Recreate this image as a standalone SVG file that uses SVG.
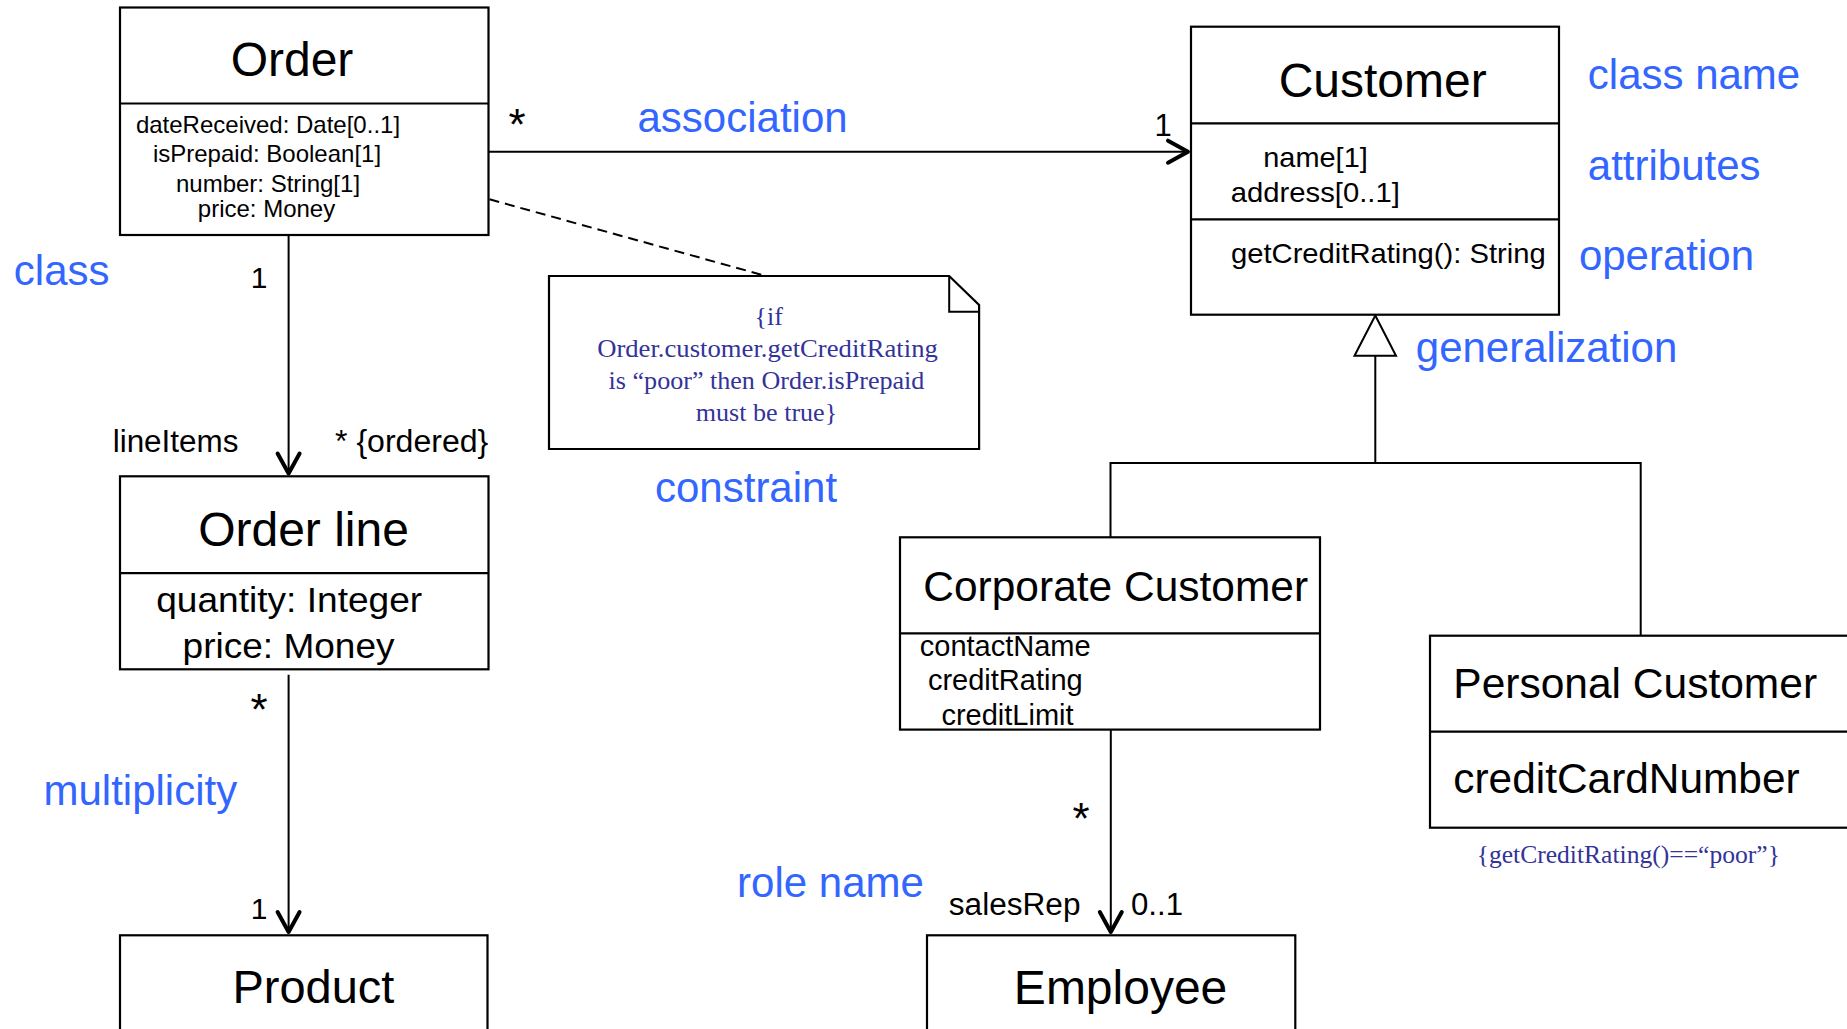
<svg xmlns="http://www.w3.org/2000/svg" width="1847" height="1029" viewBox="0 0 1847 1029">
<defs>
<style>
.box{fill:#fff;stroke:#000;stroke-width:2.2}
.dv{stroke:#000;stroke-width:2.2}
.t{font-family:"Liberation Sans",Arial,sans-serif;fill:#000}
.lbl{font-family:"Liberation Sans",Arial,sans-serif;fill:#3366ff;font-size:42px}
.note{font-family:"Liberation Serif","Times New Roman",serif;fill:#333399}
.ln{fill:none;stroke:#000;stroke-width:2}
.m{text-anchor:middle}
</style>
<marker id="open" markerUnits="userSpaceOnUse" markerWidth="32" markerHeight="32" viewBox="-5 -5 32 32" refX="20" refY="11" orient="auto">
<path d="M0,0 L20,11 L0,22" fill="none" stroke="#000" stroke-width="4" stroke-linecap="round" stroke-linejoin="round"/>
</marker>
</defs>
<rect width="1847" height="1029" fill="#fff"/>

<g id="connectors">
<path class="ln" d="M488.7,151.7 H1188" marker-end="url(#open)"/>
<path class="ln" d="M288.6,235 V473.5" marker-end="url(#open)"/>
<path class="ln" d="M288.6,674.8 V932" marker-end="url(#open)"/>
<path class="ln" d="M1110.8,729.6 V932" marker-end="url(#open)"/>
<path class="ln" d="M489.5,199.3 L762.4,275" stroke-dasharray="10 6"/>
<path class="ln" d="M1110.5,537.3 V463 H1640.7 V635.7 M1375.3,463 V355.7"/>
<polygon points="1375.3,315.5 1354.5,355.7 1396,355.7" fill="#fff" stroke="#000" stroke-width="2"/>
</g>

<g id="order">
<rect class="box" x="120" y="7.5" width="368.5" height="227.5"/>
<line class="dv" x1="120" y1="103.5" x2="488.5" y2="103.5"/>
<text class="t m" x="292" y="76" font-size="48">Order</text>
<text class="t m" x="268" y="132.7" font-size="24">dateReceived: Date[0..1]</text>
<text class="t m" x="267" y="161.7" font-size="24">isPrepaid: Boolean[1]</text>
<text class="t m" x="268" y="191.7" font-size="24">number: String[1]</text>
<text class="t m" x="266.5" y="216.7" font-size="24">price: Money</text>
</g>

<g id="customer">
<rect class="box" x="1191" y="26.7" width="368" height="288"/>
<line class="dv" x1="1191" y1="123.3" x2="1559" y2="123.3"/>
<line class="dv" x1="1191" y1="219.3" x2="1559" y2="219.3"/>
<text class="t m" x="1382.7" y="96.7" font-size="48">Customer</text>
<text class="t m" x="1315.5" y="166.7" font-size="28.5" textLength="104.5" lengthAdjust="spacingAndGlyphs">name[1]</text>
<text class="t m" x="1315.3" y="201.7" font-size="28.5" textLength="169" lengthAdjust="spacingAndGlyphs">address[0..1]</text>
<text class="t" x="1231" y="263.3" font-size="28.5" textLength="314.7" lengthAdjust="spacingAndGlyphs">getCreditRating(): String</text>
</g>

<g id="orderline">
<rect class="box" x="120" y="476.3" width="368.5" height="193"/>
<line class="dv" x1="120" y1="573.2" x2="488.5" y2="573.2"/>
<text class="t m" x="303.5" y="546" font-size="48">Order line</text>
<text class="t m" x="289.2" y="612.4" font-size="35" textLength="266" lengthAdjust="spacingAndGlyphs">quantity: Integer</text>
<text class="t m" x="288.6" y="657.7" font-size="35" textLength="212" lengthAdjust="spacingAndGlyphs">price: Money</text>
</g>

<g id="product">
<rect class="box" x="120" y="935.3" width="367.5" height="120"/>
<text class="t m" x="313.4" y="1002.5" font-size="47">Product</text>
</g>

<g id="corporate">
<rect class="box" x="900" y="537.3" width="420" height="192.3"/>
<line class="dv" x1="900" y1="633.4" x2="1320" y2="633.4"/>
<text class="t" x="923.3" y="600.8" font-size="42.5" textLength="384.8" lengthAdjust="spacingAndGlyphs">Corporate Customer</text>
<text class="t m" x="1005.2" y="655.9" font-size="29">contactName</text>
<text class="t m" x="1005.3" y="690.4" font-size="29">creditRating</text>
<text class="t m" x="1007.5" y="724.9" font-size="29">creditLimit</text>
</g>

<g id="employee">
<rect class="box" x="927" y="935.3" width="368.3" height="120"/>
<text class="t m" x="1120.6" y="1004.3" font-size="48">Employee</text>
</g>

<g id="personal">
<rect class="box" x="1430" y="635.7" width="450" height="192"/>
<line class="dv" x1="1430" y1="731.7" x2="1880" y2="731.7"/>
<text class="t" x="1453.3" y="697.7" font-size="42.5">Personal Customer</text>
<text class="t" x="1453.3" y="793.3" font-size="42.4">creditCardNumber</text>
<text class="note m" x="1628.3" y="863.3" font-size="25.6" textLength="303.3" lengthAdjust="spacingAndGlyphs">{getCreditRating()==“poor”}</text>
</g>

<g id="note">
<path d="M549,276 H949.2 L979.1,305 V449 H549 Z" fill="#fff" stroke="#000" stroke-width="2.2"/>
<path d="M949.2,276 V311.7 H979.1" fill="none" stroke="#000" stroke-width="2"/>
<text class="note m" x="768.8" y="325" font-size="26">{if</text>
<text class="note m" x="767.5" y="357.3" font-size="26" textLength="340.7" lengthAdjust="spacingAndGlyphs">Order.customer.getCreditRating</text>
<text class="note m" x="766.5" y="389.3" font-size="26" textLength="315.8" lengthAdjust="spacingAndGlyphs">is “poor” then Order.isPrepaid</text>
<text class="note m" x="766.5" y="420.7" font-size="26" textLength="141.4" lengthAdjust="spacingAndGlyphs">must be true}</text>
</g>

<g id="end-labels">
<text class="t m" x="517" y="140" font-size="44">*</text>
<text class="t m" x="1163" y="136" font-size="31">1</text>
<text class="t m" x="259" y="288.3" font-size="30">1</text>
<text class="t" x="112.7" y="451.7" font-size="31" textLength="125.7" lengthAdjust="spacingAndGlyphs">lineItems</text>
<text class="t" x="335" y="451.7" font-size="31" textLength="153.3" lengthAdjust="spacingAndGlyphs">* {ordered}</text>
<text class="t m" x="259" y="725" font-size="44">*</text>
<text class="t m" x="259" y="919" font-size="30">1</text>
<text class="t m" x="1081" y="834" font-size="44">*</text>
<text class="t" x="948.8" y="915.4" font-size="31" textLength="131.7" lengthAdjust="spacingAndGlyphs">salesRep</text>
<text class="t" x="1131" y="915.4" font-size="31" textLength="52" lengthAdjust="spacingAndGlyphs">0..1</text>
</g>

<g id="annotations">
<text class="lbl" x="13.8" y="285">class</text>
<text class="lbl" x="637.5" y="131.7">association</text>
<text class="lbl" x="1587.8" y="89.3">class name</text>
<text class="lbl" x="1587.8" y="180">attributes</text>
<text class="lbl" x="1578.9" y="270">operation</text>
<text class="lbl" x="1415.8" y="361.7">generalization</text>
<text class="lbl" x="655" y="501.7">constraint</text>
<text class="lbl" x="43.5" y="804.7">multiplicity</text>
<text class="lbl" x="737.1" y="897.2">role name</text>
</g>
</svg>
